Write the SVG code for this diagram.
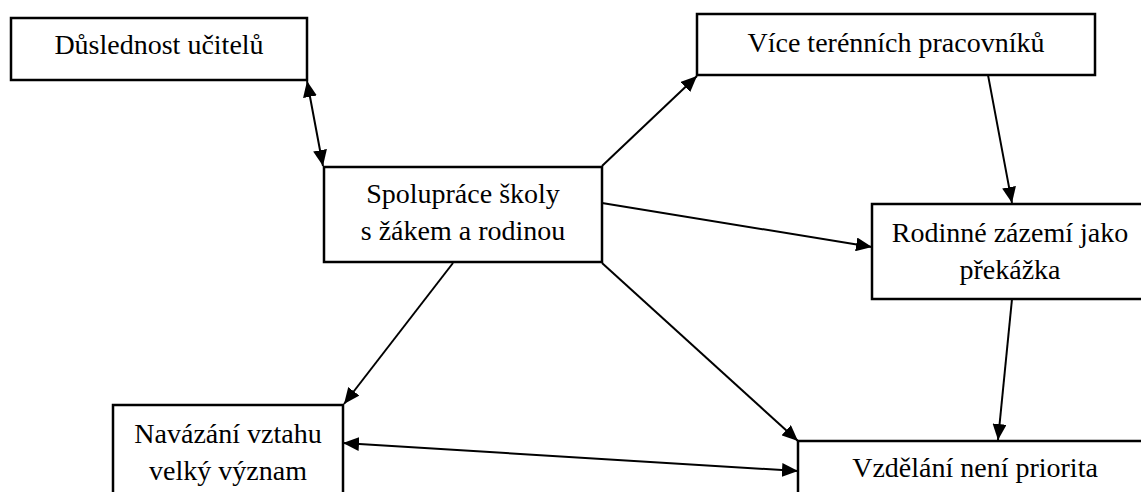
<svg xmlns="http://www.w3.org/2000/svg" width="1141" height="492" viewBox="0 0 1141 492">
  <style>
    .box { fill: #ffffff; stroke: #000000; stroke-width: 2.5; }
    .lbl { font-family: "Liberation Serif", "Times New Roman", serif; font-size: 28px; fill: #000000; text-anchor: middle; }
    .edge { fill: none; stroke: #000000; stroke-width: 2; }
  </style>
  <defs>
    <marker id="arrow" viewBox="0 0 16 14" markerWidth="16" markerHeight="14" refX="16" refY="7" orient="auto-start-reverse" markerUnits="userSpaceOnUse">
      <path d="M0,0 L16,7 L0,14 z" fill="#000000"/>
    </marker>
  </defs>
  <rect width="1141" height="492" fill="#ffffff"/>

  <g id="node-duslednost">
    <rect class="box" x="11" y="18" width="296" height="62"/>
    <text class="lbl" x="159" y="54">Důslednost učitelů</text>
  </g>

  <g id="node-vice-terennich">
    <rect class="box" x="697" y="14" width="398" height="61"/>
    <text class="lbl" x="896" y="52">Více terénních pracovníků</text>
  </g>

  <g id="node-spoluprace">
    <rect class="box" x="324" y="167" width="278" height="95"/>
    <text class="lbl" x="463" y="203">Spolupráce školy</text>
    <text class="lbl" x="463" y="240">s žákem a rodinou</text>
  </g>

  <g id="node-rodinne-zazemi">
    <rect class="box" x="872" y="204" width="280" height="95"/>
    <text class="lbl" x="1010" y="242">Rodinné zázemí jako</text>
    <text class="lbl" x="1010" y="279">překážka</text>
  </g>

  <g id="node-navazani">
    <rect class="box" x="113" y="405" width="230" height="100"/>
    <text class="lbl" x="228" y="443">Navázání vztahu</text>
    <text class="lbl" x="228" y="480">velký význam</text>
  </g>

  <g id="node-vzdelani">
    <rect class="box" x="798" y="441" width="360" height="70"/>
    <text class="lbl" x="975" y="477">Vzdělání není priorita</text>
  </g>

  <g id="connectors">
    <line class="edge" x1="307" y1="81" x2="323" y2="166" marker-start="url(#arrow)" marker-end="url(#arrow)"/>
    <line class="edge" x1="602" y1="166" x2="697" y2="76" marker-end="url(#arrow)"/>
    <line class="edge" x1="602" y1="203" x2="872" y2="247" marker-end="url(#arrow)"/>
    <line class="edge" x1="453" y1="263" x2="344" y2="404" marker-end="url(#arrow)"/>
    <line class="edge" x1="602" y1="263" x2="798" y2="441" marker-end="url(#arrow)"/>
    <line class="edge" x1="988" y1="75" x2="1012" y2="203" marker-end="url(#arrow)"/>
    <line class="edge" x1="1012" y1="299" x2="998" y2="440" marker-end="url(#arrow)"/>
    <line class="edge" x1="343" y1="443" x2="798" y2="471" marker-start="url(#arrow)" marker-end="url(#arrow)"/>
  </g>
</svg>
